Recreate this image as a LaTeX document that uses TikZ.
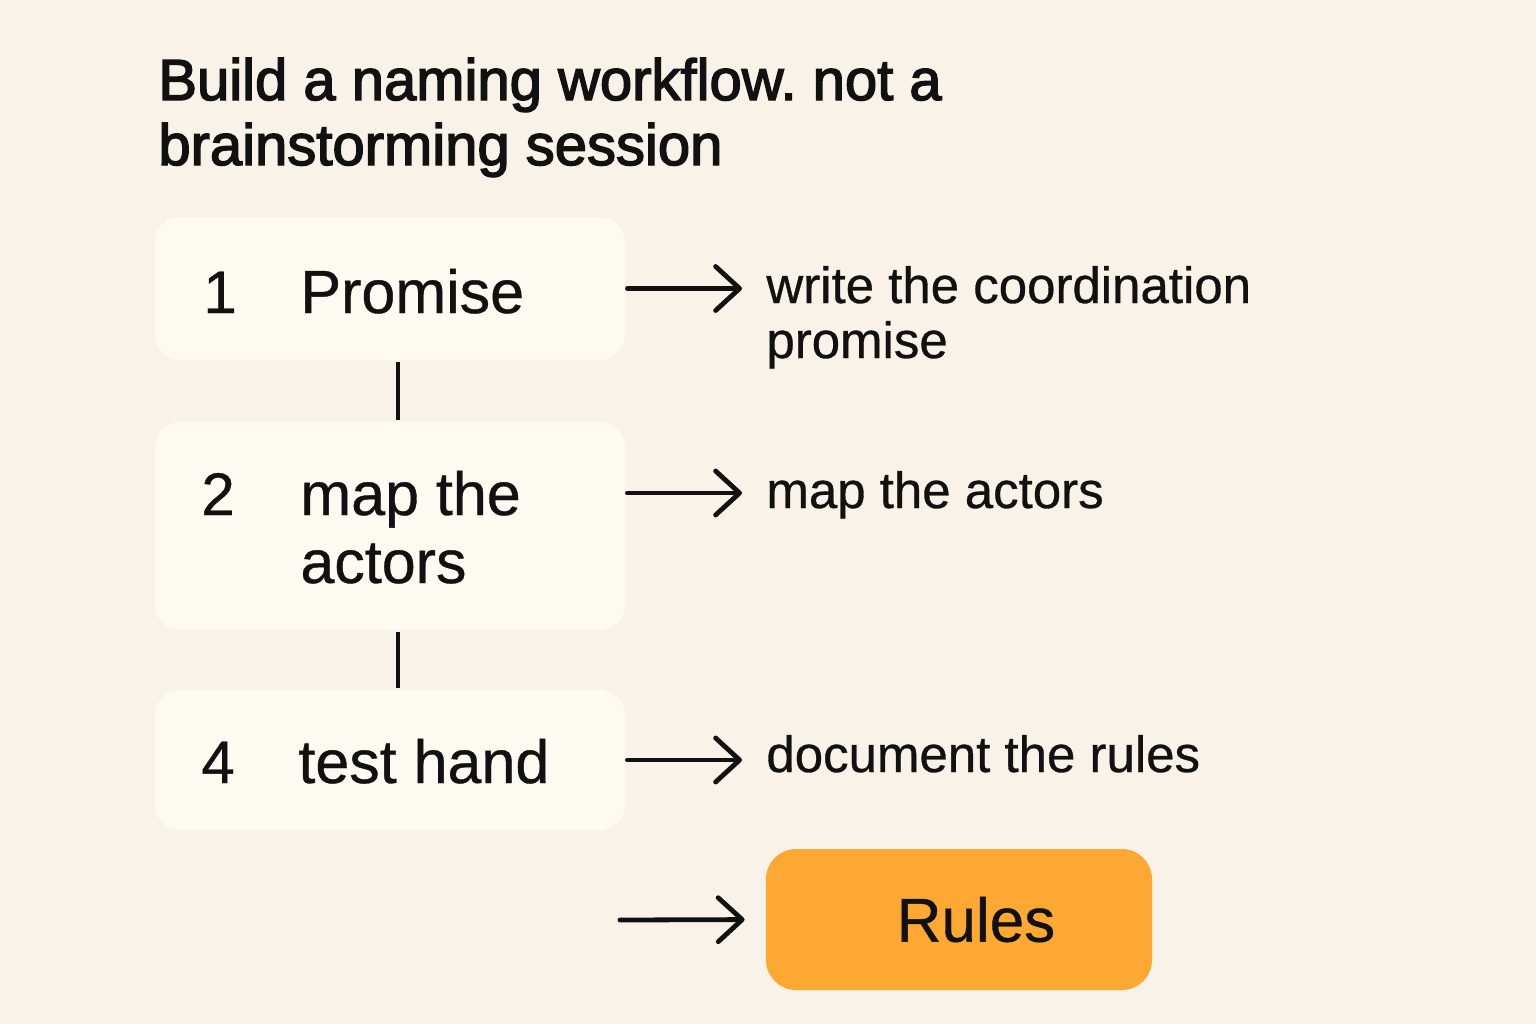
\documentclass[tikz,border=0pt]{standalone}
\usepackage{xcolor}
\usepackage{fontspec}
\setmainfont[FakeBold=0.6]{Liberation Sans}
\newfontfamily\headfont[FakeBold=2.5]{Liberation Sans}
\usepackage{tikz}
\usetikzlibrary{positioning,arrows.meta}
\frenchspacing

\definecolor{paper}{HTML}{F8F2E9}
\definecolor{card}{HTML}{FDFAF1}
\definecolor{accent}{HTML}{FCA833}
\definecolor{ink}{HTML}{111111}

\begin{document}
\begin{tikzpicture}[x=0.5pt, y=-0.5pt, text=ink, draw=ink,
		stepbox/.style={fill=card, rounded corners=12.5pt, minimum width=235pt, inner sep=0pt},
		num/.style={anchor=base west, inner sep=0pt, font=\fontsize{30}{34}\selectfont},
		lbl/.style={anchor=base west, inner sep=0pt, align=left, font=\fontsize{30.5}{34}\selectfont},
		note/.style={anchor=base west, inner sep=0pt, align=left, font=\fontsize{25.5}{27.5}\selectfont},
		arr/.style={-{Straight Barb[length=12pt, width=22pt, round]}, line width=2.4pt, line cap=round, shorten <=1pt, shorten >=12pt},
		link/.style={line width=2.4pt, shorten <=1pt, shorten >=1pt}]
		\fill[paper] (0,0) rectangle (1536,1024);
		\useasboundingbox (0,0) rectangle (1536,1024);

		% base of a multi-line node is its last line
		\node[anchor=base west, inner sep=0pt, align=left, font=\headfont\fontsize{29}{32.5}\selectfont] (title) at (158,165) {Build a naming workflow. not a\\brainstorming session};

		% steps
		\node[stepbox, minimum height=71.5pt] (promise) at (390,288.5) {};
		\node[num] (n1) at (203,313) {1};
		\node[lbl] (l1) at (300,313) {Promise};
		\node[stepbox, minimum height=104pt] (actors) at (390,526) {};
		\node[num] (n2) at (201,515) {2};
		\node[lbl] (l2) at (300,583) {map the\\actors};
		\node[stepbox, minimum height=70pt] (hand) at (390,760) {};
		\node[num] (n4) at (201,783) {4};
		\node[lbl] (l4) at (298,783) {test hand};

		\draw[link] ([xshift=4pt]promise.south) -- ([xshift=4pt]actors.north);
		\draw[link] ([xshift=4pt]actors.south) -- ([xshift=4pt]hand.north);

		% notes
		\node[note] (w1) at (766,358) {write the coordination\\promise};
		\node[note] (w2) at (766,508) {map the actors};
		\node[note] (w4) at (766,772) {document the rules};

		\draw[arr] (promise.east) -- (promise.east -| w1.west);
		\draw[arr] (actors.east |- 0,493) -- (w2.west |- 0,493);
		\draw[arr] (hand.east) -- (hand.east -| w4.west);

		% result
		\node[fill=accent, rounded corners=15pt, minimum width=193pt, minimum height=70.5pt, inner sep=0pt] (rules) at (959,919.5) {};
		\node[inner sep=0pt, font=\fontsize{31}{34}\selectfont] (rulestext) at (976,919.5) {Rules};
		\coordinate (feed) at (620,920);
		\draw[arr, shorten <=0pt, shorten >=10.5pt] (feed) -- (rules.west);
	\end{tikzpicture}
\end{document}
